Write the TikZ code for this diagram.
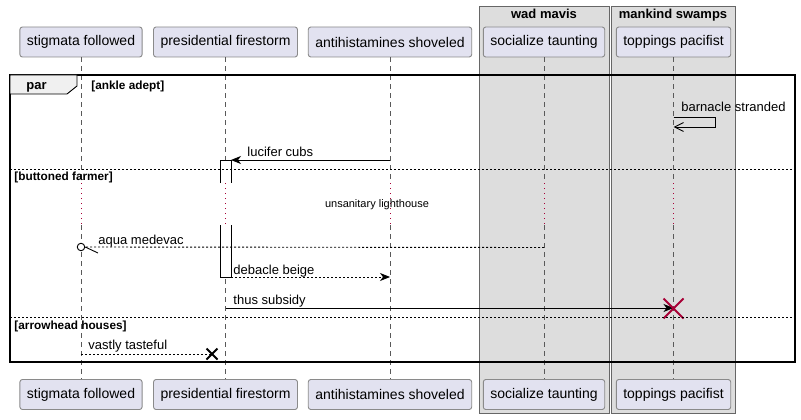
\documentclass[tikz,border=0pt]{standalone}
\usepackage{fontspec}
\setmainfont{Liberation Sans}
\usetikzlibrary{arrows.meta,calc}
\definecolor{partfill}{HTML}{E2E2F0}
\definecolor{partline}{HTML}{8A8A8A}
\definecolor{groupfill}{HTML}{DDDDDD}
\definecolor{delayred}{HTML}{A80036}
\begin{document}
\begin{tikzpicture}[
    x=1pt, y=-1pt, line width=0.9pt,
    actor/.style={draw=partline, fill=partfill, rounded corners=2.5pt,
                  minimum height=30pt, inner xsep=7pt,
                  font=\fontsize{14}{16}\selectfont},
    groupbox/.style={draw=gray!80!black, fill=groupfill},
    grouptitle/.style={font=\bfseries\fontsize{13}{15}\selectfont, anchor=base},
    lifeline/.style={draw=gray!70!black, dash pattern=on 5pt off 4pt},
    delay/.style={draw=delayred, dash pattern=on 1pt off 4pt},
    guard/.style={font=\bfseries\fontsize{11.8}{13}\selectfont, anchor=base west, inner sep=0pt},
    msgtext/.style={font=\fontsize{13}{15}\selectfont, anchor=base west, inner sep=0pt},
    msg/.style={draw, -{Stealth[length=10pt,width=8pt,inset=3pt]}},
    reply/.style={msg, dash pattern=on 2pt off 2pt},
    sep/.style={draw, dash pattern=on 2pt off 2pt},
    activation/.style={draw, fill=white},
  ]
  \useasboundingbox (0,0) rectangle (801,420);
  \path[groupbox] (479,6) rectangle (609,413);
  \path[groupbox] (611,6) rectangle (735,413);
  \node[grouptitle] (wm) at (544,19) {wad mavis};
  \node[grouptitle] (ms) at (673,19) {mankind swamps};

  \node[actor] (sf) at (81,42) {stigmata followed};
  \node[actor] (pf) at (225.5,42) {presidential firestorm};
  \node[actor] (as) at (390,42) {antihistamines shoveled};
  \node[actor] (st) at (544,42) {socialize taunting};
  \node[actor] (tp) at (673.5,42) {toppings pacifist};
  \node[actor] (sf-b) at (81,394.5) {stigmata followed};
  \node[actor] (pf-b) at (225.5,394.5) {presidential firestorm};
  \node[actor] (as-b) at (390,394.5) {antihistamines shoveled};
  \node[actor] (st-b) at (544,394.5) {socialize taunting};
  \node[actor] (tp-b) at (673.5,394.5) {toppings pacifist};

  \foreach \p in {sf,pf,as,st,tp} {
    \draw[lifeline] (\p.south) -- (\p.south |- 0,183);
    \draw[delay] (\p.south |- 0,183) -- (\p.south |- 0,225);
    \draw[lifeline] (\p.south |- 0,225) -- (\p-b.north);
  }

  \draw[line width=1.5pt] (10,75) rectangle (795,362);
  \draw[fill=gray!12] (10,75) -- (77,75) -- (77,86) -- (67,94) -- (10,94) -- cycle;
  \node[guard, font=\bfseries\fontsize{13}{15}\selectfont] (par) at (26,90) {par};
  \node[guard] (g1) at (91,89) {[ankle adept]};

  \draw[-{Straight Barb[length=9pt,width=9pt]}] (tp.south |- 0,117) -- (715,117) -- (715,127) -- (tp.south |- 0,127);
  \node[msgtext] (m1) at (681,111) {barnacle stranded};

  \path[activation] (220,183) -- (220,160) -- (231,160) -- (231,183);
  \path[activation] (220,225) -- (220,277) -- (231,277) -- (231,225);
  \draw (220,183) -- (220,160) -- (231,160) -- (231,183);
  \draw (220,225) -- (220,277) -- (231,277) -- (231,225);
  \draw[msg] (as.south |- 0,160) -- (231,160);
  \node[msgtext] (m2) at (247,156) {lucifer cubs};

  \draw[sep] (10,169) -- (795,169);
  \node[guard] (g2) at (14,180) {[buttoned farmer]};
  \node[font=\fontsize{11}{13}\selectfont] (dl) at (377,205) {unsanitary lighthouse};

  \node[draw, circle, fill=white, minimum size=7.5pt, inner sep=0pt] (c1) at (81,247) {};
  \draw[dash pattern=on 2pt off 2pt] (st.south |- 0,247.5) -- (c1.east);
  \draw (c1.east) -- (98,253);
  \node[msgtext] (m3) at (98,244) {aqua medevac};

  \draw[reply] (231,277) -- (as.south |- 0,277);
  \node[msgtext] (m4) at (233,274) {debacle beige};

  \draw[msg] (pf.south |- 0,308) -- (tp.south |- 0,308);
  \node[msgtext] (m5) at (233,304) {thus subsidy};
  \draw[delayred, line width=2pt] (663.5,298.5) -- (683.5,318.5) (663.5,318.5) -- (683.5,298.5);

  \draw[sep] (10,317) -- (795,317);
  \node[guard] (g3) at (14,329) {[arrowhead houses]};

  \coordinate (lost) at (212,354);
  \draw[dash pattern=on 2pt off 2pt] (sf.south |- 0,354) -- (lost);
  \draw[line width=1.8pt] ($(lost)+(-5.5,-5.5)$) -- ($(lost)+(5.5,5.5)$) ($(lost)+(-5.5,5.5)$) -- ($(lost)+(5.5,-5.5)$);
  \node[msgtext] (m6) at (88,349) {vastly tasteful};
\end{tikzpicture}
\end{document}
